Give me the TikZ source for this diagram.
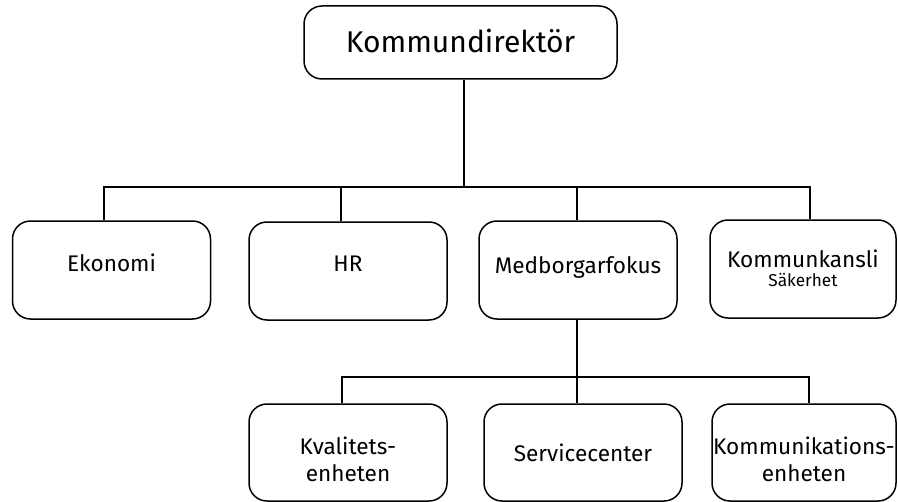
\documentclass[tikz,border=0pt]{standalone}
\usepackage{fontspec}
\setmainfont{Fira Sans}
\tikzset{
  box/.style={draw, rounded corners=9pt, line width=0.75pt, inner sep=0pt,
    minimum width=99pt, minimum height=49pt, align=center,
    font=\fontsize{11.3}{13.5}\selectfont},
  top box/.style={box, minimum width=156.5pt, minimum height=36.5pt,
    font=\fontsize{15}{18}\selectfont},
  link/.style={line width=1pt},
}
\begin{document}
\begin{tikzpicture}[x=0.5pt, y=-0.5pt]
\useasboundingbox (0,0) rectangle (898,502);
%%%% Top:
\node[top box, text depth=2pt] (dir) at (460.5,42.5) {Kommundirektör};
%%%% Second row
\node[box, text depth=7pt] (eko) at (111.5,270) {Ekonomi};
\node[box, text depth=7pt] (hr) at (348,271) {HR};
\node[box, text depth=5pt] (med) at (578,270) {Medborgarfokus};
\node[box, minimum width=93pt, text depth=1pt] (kan) at (803,269)
  {Kommunkansli\\[-4pt]{\fontsize{8.6}{10}\selectfont Säkerhet}};
%%%% Third row
\node[box, minimum height=48.5pt, text height=29pt] (kva) at (348,452.5) {Kvalitets-\\enheten};
\node[box, minimum height=48.5pt] (ser) at (583,452.5) {Servicecenter};
\node[box, minimum height=48.5pt, minimum width=92pt, text height=29pt] (kom) at (804,452.5) {Kommunikations-\\enheten};

%%%% Bus lines
\coordinate (j0) at (464,187);
\coordinate (j1) at (104,187);
\coordinate (j2) at (341,187);
\coordinate (j3) at (577,187);
\coordinate (j4) at (810,187);
\draw[link] (j0 |- dir.south) -- (j0);
\draw[link] (j1 |- eko.north) -- (j1) -- (j4) -- (j4 |- kan.north);
\draw[link] (j2) -- (j2 |- hr.north);
\draw[link] (j3) -- (j3 |- med.north);

\coordinate (k0) at (577,377);
\coordinate (k1) at (342,377);
\coordinate (k2) at (809,377);
\draw[link] (k0 |- med.south) -- (k0 |- ser.north);
\draw[link] (k1 |- kva.north) -- (k1) -- (k2) -- (k2 |- kom.north);
\end{tikzpicture}
\end{document}
